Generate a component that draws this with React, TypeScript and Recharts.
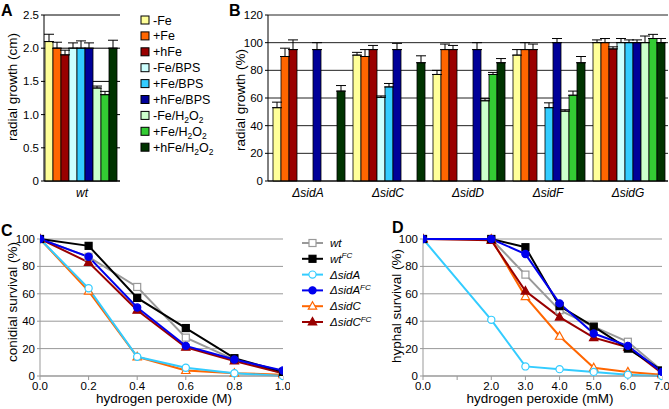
import React from 'react';
import { BarChart, Bar, XAxis, YAxis, CartesianGrid, ErrorBar, LineChart, Line } from 'recharts';

const FONT = '"Liberation Sans", Arial, Helvetica, sans-serif';

// treatments used in panels A and B
const treatments = ['-Fe', '+Fe', '+hFe', '-Fe/BPS', '+Fe/BPS', '+hFe/BPS', '-Fe/H2O2', '+Fe/H2O2', '+hFe/H2O2'];
const treatmentColors = ['#FFFF99', '#FF6600', '#990000', '#CCFFFF', '#33CCFF', '#000099', '#CCFFCC', '#33CC33', '#003300'];

// A: wild type radial growth (cm)
const aCategories = ['wt'];
const aValues = [2.1, 2.0, 1.9, 2.0, 2.0, 2.0, 1.4, 1.3, 2.0];
const aErrors = [0.11, 0.09, 0.07, 0.08, 0.11, 0.08, 0.03, 0.05, 0.12];
const aTicks = [0, 0.5, 1, 1.5, 2, 2.5];

// B: radial growth (%) of mutants, one array per treatment (null = not grown)
const bCategories = ['\u0394sidA', '\u0394sidC', '\u0394sidD', '\u0394sidF', '\u0394sidG'];
const bMinusFe = [53, 91, 77, 91, 100];
const bPlusFe = [90, 90, 95, 95, 100];
const bPlusHFe = [95, 95, 95, 95, 95.5];
const bMinusFeBPS = [null, 60.5, null, null, 100];
const bPlusFeBPS = [null, 68, null, 53, 100];
const bPlusHFeBPS = [95, 95, 95, 100, 100];
const bMinusFeH2O2 = [null, null, 58, 50.5, 100];
const bPlusFeH2O2 = [null, null, 77, 62, 103];
const bPlusHFeH2O2 = [65, 85.5, 85.5, 85.5, 100];
const bErrMinusFe = [4, 2, 3, 4, 2];
const bErrPlusFe = [6, 5, 4, 5, 3];
const bErrPlusHFe = [7, 3, 3, 4, 1.5];
const bErrMinusFeBPS = [0, 1, 0, 0, 3];
const bErrPlusFeBPS = [0, 2.5, 0, 3.5, 2];
const bErrPlusHFeBPS = [5, 4.5, 5, 3, 2];
const bErrMinusFeH2O2 = [0, 0, 1.5, 1, 4.8];
const bErrPlusFeH2O2 = [0, 0, 1.5, 3, 3];
const bErrPlusHFeH2O2 = [4, 5, 3, 4.5, 3];
const bTicks = [0, 20, 40, 60, 80, 100, 120];

const bValues = [bMinusFe, bPlusFe, bPlusHFe, bMinusFeBPS, bPlusFeBPS, bPlusHFeBPS, bMinusFeH2O2, bPlusFeH2O2, bPlusHFeH2O2];
const bErrors = [bErrMinusFe, bErrPlusFe, bErrPlusHFe, bErrMinusFeBPS, bErrPlusFeBPS, bErrPlusHFeBPS, bErrMinusFeH2O2, bErrPlusFeH2O2, bErrPlusHFeH2O2];

// C: conidial survival (%) vs hydrogen peroxide (M)
const cDose = [0, 0.2, 0.4, 0.6, 0.8, 1.0];
const cWt = [100, 87, 65, 28, 12, 2];
const cWtFC = [100, 95, 57, 35, 13, 3];
const cSidA = [100, 64, 14, 6, 2, 0];
const cSidAFC = [100, 87, 50, 22, 12, 4];
const cSidC = [100, 62, 14, 4, 2, 1];
const cSidCFC = [100, 83, 48, 21, 11, 2];
const cTicks = [0, 0.2, 0.4, 0.6, 0.8, 1.0];

// D: hyphal survival (%) vs hydrogen peroxide (mM)
const dDose = [0, 2, 3, 4, 5, 6, 7];
const dWt = [100, 100, 74, 48, 36, 25, 4];
const dWtFC = [100, 100, 94, 51, 36, 20, 4];
const dSidA = [100, 41, 7, 5, 3, 1, 0];
const dSidAFC = [100, 100, 89, 53, 31, 22, 3];
const dSidC = [100, 100, 58, 29, 6, 3, 1];
const dSidCFC = [100, 99, 62, 43, 28, 21, 2];
const dTicks = [0, 1, 2, 3, 4, 5, 6, 7];
const dTickLabels = ['0.0', '', '2.0', '3.0', '4.0', '5.0', '6.0', '7.0'];

const survivalTicks = [0, 20, 40, 60, 80, 100];

const strainKeys = ['wt', 'wtFC', 'sidA', 'sidAFC', 'sidC', 'sidCFC'];
const strainNames = ['wt', 'wt', '\u0394sidA', '\u0394sidA', '\u0394sidC', '\u0394sidC'];
const strainSup = ['', 'FC', '', 'FC', '', 'FC'];
const strainColors = ['#999999', '#000000', '#33CCFF', '#0000EE', '#FF6600', '#990000'];
const strainShapes = ['square', 'square', 'circle', 'circle', 'triangle', 'triangle'];
const strainOpen = [true, false, true, false, true, false];
// drawing order (last on top)
const drawOrder = [0, 4, 5, 2, 1, 3];

const aData = aCategories.map((name) => {
  const row: any = { name };
  treatments.forEach((_, i) => {
    row['v' + i] = aValues[i];
    row['e' + i] = [0, aErrors[i]];
  });
  return row;
});

const bData = bCategories.map((name, j) => {
  const row: any = { name };
  treatments.forEach((_, i) => {
    const v = bValues[i][j];
    row['v' + i] = v;
    row['e' + i] = v == null ? null : [0, bErrors[i][j]];
  });
  return row;
});

const cSeries = [cWt, cWtFC, cSidA, cSidAFC, cSidC, cSidCFC];
const cData = cDose.map((x, i) => {
  const row: any = { x };
  strainKeys.forEach((k, s) => (row[k] = cSeries[s][i]));
  return row;
});

const dSeries = [dWt, dWtFC, dSidA, dSidAFC, dSidC, dSidCFC];
const dData = dDose.map((x, i) => {
  const row: any = { x };
  strainKeys.forEach((k, s) => (row[k] = dSeries[s][i]));
  return row;
});

const Marker = ({ cx, cy, shape, color, open }: any) => {
  if (cx == null || cy == null) return null;
  const fill = open ? '#fff' : color;
  if (shape === 'square') {
    return <rect x={cx - 3.5} y={cy - 3.5} width={7} height={7} fill={fill} stroke={color} strokeWidth={1.2} />;
  }
  if (shape === 'circle') {
    return <circle cx={cx} cy={cy} r={3.6} fill={fill} stroke={color} strokeWidth={1.2} />;
  }
  return (
    <polygon
      points={`${cx},${cy - 4.5} ${cx + 4.2},${cy + 3} ${cx - 4.2},${cy + 3}`}
      fill={fill}
      stroke={color}
      strokeWidth={1.2}
    />
  );
};

const tickStyle = { fill: '#000', fontSize: 11.5, fontFamily: FONT };
const catTickStyle = { fill: '#000', fontSize: 12, fontFamily: FONT, fontStyle: 'italic' };

const SurvivalChart = ({ data, ticks, domain, formatter, left, width, yWidth }: any) => (
  <div style={{ position: 'absolute', left, top: 225 }}>
    <LineChart width={width} height={184} data={data} margin={{ top: 14, right: 7, left: 0, bottom: 0 }}>
      <CartesianGrid vertical={false} stroke="#999" strokeWidth={1} />
      <XAxis
        type="number"
        dataKey="x"
        domain={domain}
        ticks={ticks}
        tickFormatter={formatter}
        height={33}
        tick={tickStyle}
        tickSize={4}
        tickMargin={2}
        axisLine={{ stroke: '#999' }}
        tickLine={{ stroke: '#999' }}
        allowDataOverflow
      />
      <YAxis
        domain={[0, 100]}
        ticks={survivalTicks}
        width={yWidth}
        tick={tickStyle}
        tickSize={3}
        tickMargin={2}
        axisLine={{ stroke: '#999' }}
        tickLine={{ stroke: '#999' }}
      />
      <YAxis yAxisId="r" orientation="right" width={0} tick={false} tickLine={false} axisLine={{ stroke: '#999' }} />
      {drawOrder.map((s) => (
        <Line
          key={strainKeys[s]}
          dataKey={strainKeys[s]}
          stroke={strainColors[s]}
          strokeWidth={2}
          isAnimationActive={false}
          activeDot={false}
          dot={(p: any) => (
            <Marker
              key={`${strainKeys[s]}-${p.index}`}
              cx={p.cx}
              cy={p.cy}
              shape={strainShapes[s]}
              color={strainColors[s]}
              open={strainOpen[s]}
            />
          )}
        />
      ))}
    </LineChart>
  </div>
);

const TreatmentLabel = ({ label }: { label: string }) => {
  const m = label.match(/^(.*)H2O2$/);
  if (!m) return <>{label}</>;
  return (
    <>
      {m[1]}H
      <tspan dy={3} fontSize={8.5}>2</tspan>
      <tspan dy={-3}>O</tspan>
      <tspan dy={3} fontSize={8.5}>2</tspan>
    </>
  );
};

export default function App() {
  return (
    <div style={{ position: 'absolute', left: 0, top: 0, width: 669, height: 409, background: '#fff', fontFamily: FONT, overflow: 'hidden' }}>
      {/* A */}
      <div style={{ position: 'absolute', left: 0, top: 0 }}>
        <BarChart width={125} height={205} data={aData} margin={{ top: 15, right: 5, left: 0, bottom: 0 }} barCategoryGap={1} barGap={0}>
          <CartesianGrid vertical={false} stroke="#000" />
          <XAxis dataKey="name" height={24} tickLine={false} tick={catTickStyle} tickSize={4} tickMargin={3} axisLine={{ stroke: '#000' }} />
          <YAxis
            domain={[0, 2.5]}
            ticks={aTicks}
            width={44}
            tickFormatter={(v: number) => (v === 0 ? '0' : v.toFixed(1))}
            tick={tickStyle}
            tickSize={3}
            tickMargin={2}
            axisLine={{ stroke: '#000' }}
            tickLine={{ stroke: '#000' }}
          />
          <YAxis yAxisId="r" orientation="right" width={0} tick={false} tickLine={false} axisLine={{ stroke: '#000' }} />
          {treatments.map((t, i) => (
            <Bar key={t} dataKey={'v' + i} fill={treatmentColors[i]} stroke="#000" strokeWidth={0.8} isAnimationActive={false}>
              <ErrorBar dataKey={'e' + i} width={5} stroke="#000" strokeWidth={1} direction="y" />
            </Bar>
          ))}
        </BarChart>
      </div>

      {/* B */}
      <div style={{ position: 'absolute', left: 224, top: 0 }}>
        <BarChart width={445} height={205} data={bData} margin={{ top: 15, right: 1, left: 0, bottom: 0 }} barCategoryGap={5} barGap={0}>
          <CartesianGrid vertical={false} stroke="#222" />
          <XAxis dataKey="name" height={24} tickLine={false} tick={catTickStyle} tickSize={4} tickMargin={3} axisLine={{ stroke: '#000' }} />
          <YAxis
            domain={[0, 120]}
            ticks={bTicks}
            width={44}
            tick={tickStyle}
            tickSize={3}
            tickMargin={2}
            axisLine={{ stroke: '#000' }}
            tickLine={{ stroke: '#000' }}
          />
          <YAxis yAxisId="r" orientation="right" width={0} tick={false} tickLine={false} axisLine={{ stroke: '#888' }} />
          {treatments.map((t, i) => (
            <Bar key={t} dataKey={'v' + i} fill={treatmentColors[i]} stroke="#000" strokeWidth={0.8} isAnimationActive={false}>
              <ErrorBar dataKey={'e' + i} width={5} stroke="#000" strokeWidth={1} direction="y" />
            </Bar>
          ))}
        </BarChart>
      </div>

      {/* C */}
      <SurvivalChart
        data={cData}
        ticks={cTicks}
        domain={[0, 1]}
        formatter={(v: number) => v.toFixed(1)}
        left={0}
        width={290}
        yWidth={40}
      />

      {/* D */}
      <SurvivalChart
        data={dData}
        ticks={dTicks}
        domain={[0, 7]}
        formatter={(v: number) => dTickLabels[dTicks.indexOf(v)]}
        left={380}
        width={289}
        yWidth={43}
      />

      {/* labels, titles, legends */}
      <svg width={669} height={409} style={{ position: 'absolute', left: 0, top: 0, pointerEvents: 'none' }} fontFamily={FONT}>
        <g fontWeight="bold" fontSize={16}>
          <text x={1} y={16}>A</text>
          <text x={229} y={16}>B</text>
          <text x={1} y={236}>C</text>
          <text x={392} y={233}>D</text>
        </g>
        <g fontSize={13.5} textAnchor="middle">
          <text transform="translate(17,87) rotate(-90)">radial growth (cm)</text>
          <text transform="translate(245,100) rotate(-90)">radial growth (%)</text>
          <text transform="translate(17,302) rotate(-90)">conidial survival (%)</text>
          <text transform="translate(401,306) rotate(-90)">hyphal survival (%)</text>
          <text x={164} y={403}>hydrogen peroxide (M)</text>
          <text x={540} y={403}>hydrogen peroxide (mM)</text>
        </g>
        <g fontSize={12.5}>
          {treatments.map((t, i) => {
            const y = 20 + i * 15.9;
            return (
              <g key={t}>
                <rect x={141} y={y - 4} width={8} height={8} fill={treatmentColors[i]} stroke="#000" strokeWidth={1} />
                <text x={153} y={y + 4.5}>
                  <TreatmentLabel label={t} />
                </text>
              </g>
            );
          })}
        </g>
        <g fontSize={11.5} fontStyle="italic">
          {strainKeys.map((k, s) => {
            const y = 243 + s * 15.8;
            return (
              <g key={k}>
                <line x1={302} x2={323} y1={y} y2={y} stroke={strainColors[s]} strokeWidth={2} />
                <Marker cx={312.5} cy={y} shape={strainShapes[s]} color={strainColors[s]} open={strainOpen[s]} />
                <text x={330} y={y + 4}>
                  {strainNames[s]}
                  {strainSup[s] && (
                    <tspan dy={-4.5} fontSize={8}>
                      {strainSup[s]}
                    </tspan>
                  )}
                </text>
              </g>
            );
          })}
        </g>
      </svg>
    </div>
  );
}
